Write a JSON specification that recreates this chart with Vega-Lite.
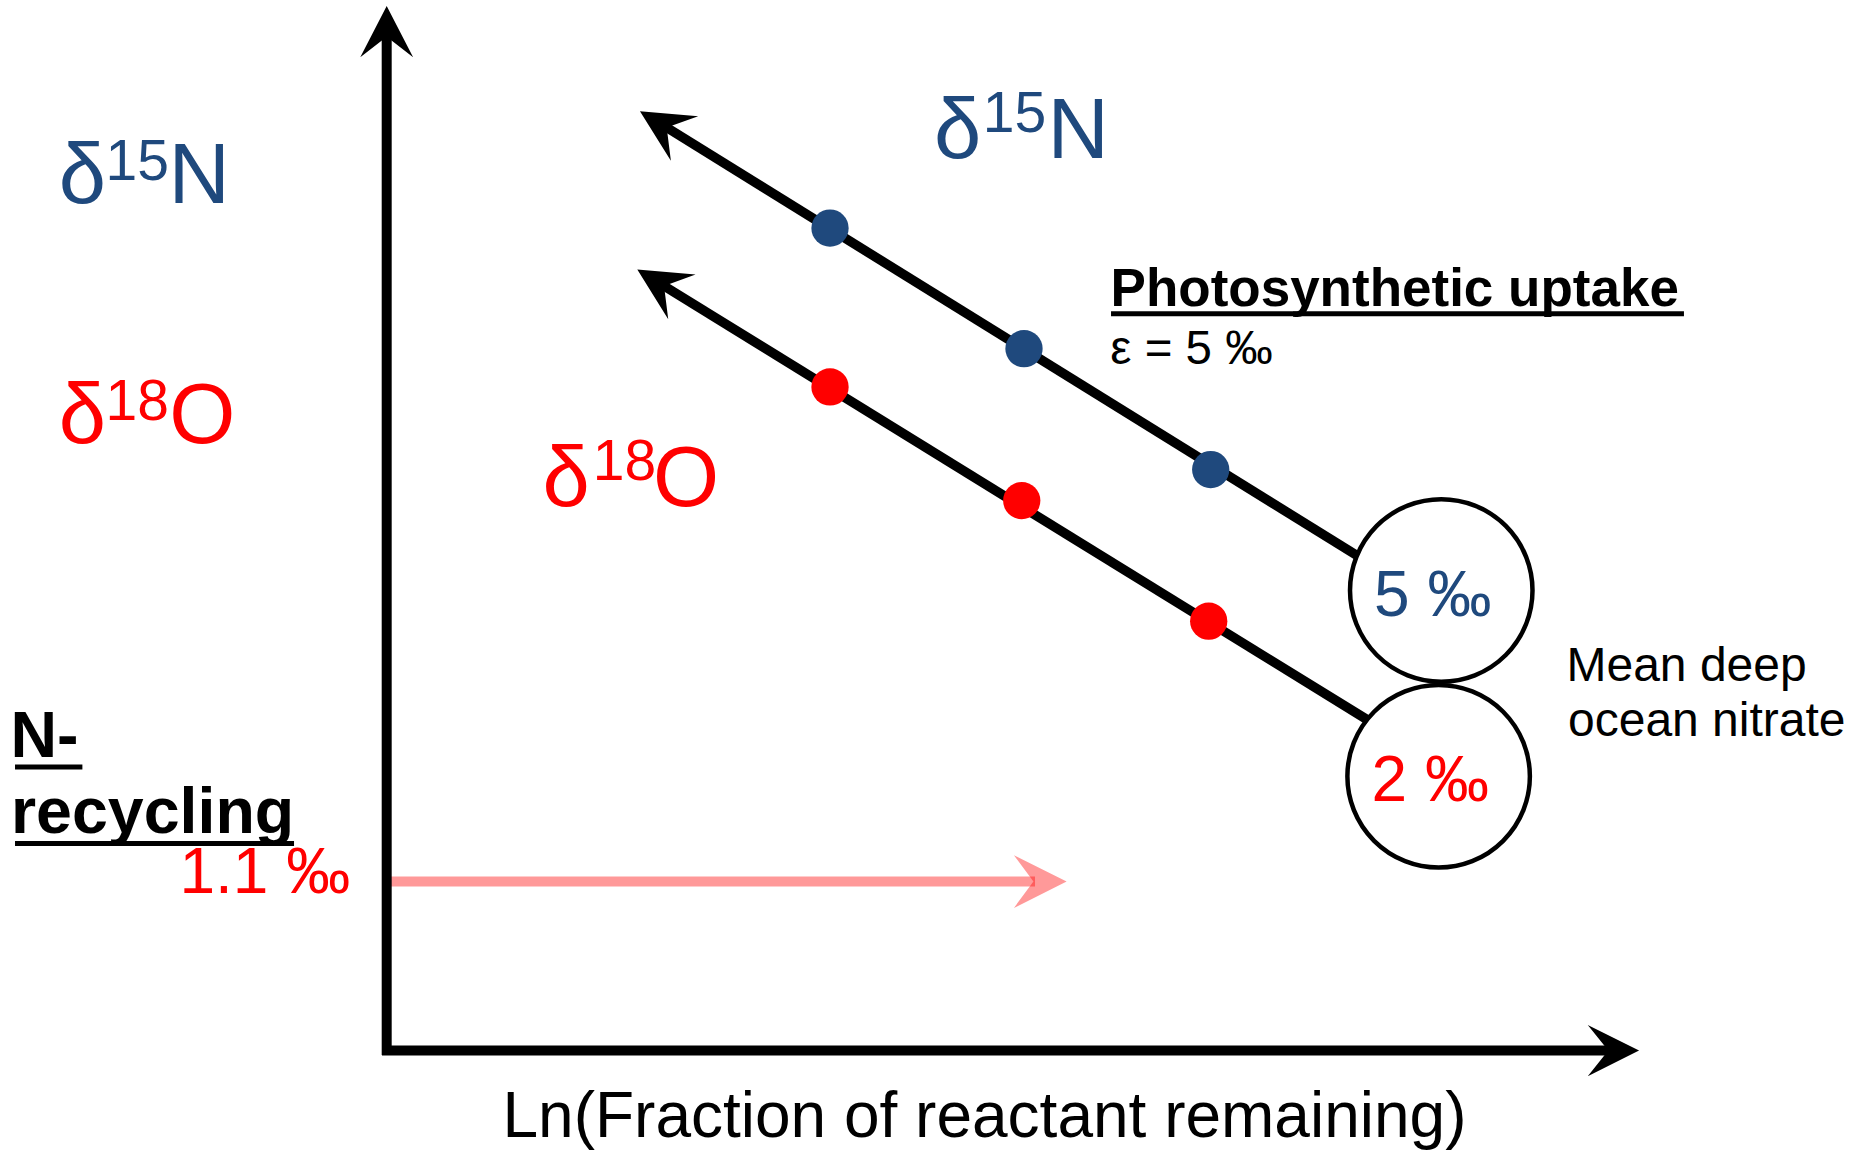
{
  "$schema": "https://vega.github.io/schema/vega-lite/v6.json",
  "width": 1851,
  "height": 1151,
  "autosize": {"type": "fit", "contains": "padding"},
  "padding": 0,
  "background": "white",
  "config": {"view": {"stroke": null}},
  "datasets": {
    "recycling_line": [{"x": 0, "y": 1.618, "x2": 5.177, "y2": 1.618}],
    "recycling_head": [{"x": 5.219, "y": 1.618}],
    "axes": [
      {"x": 0, "y": -0.043, "x2": 0, "y2": 9.718},
      {"x": -0.0375, "y": 0, "x2": 9.768, "y2": 0}
    ],
    "head_up": [{"x": 0, "y": 9.7547}],
    "head_right": [{"x": 9.7956, "y": 0}],
    "trends": [
      {"series": "δ15N", "x": 7.748, "y": 4.739, "x2": 2.2003, "y2": 8.8627},
      {"series": "δ18O", "x": 7.8256, "y": 3.1707, "x2": 2.1792, "y2": 7.3458}
    ],
    "trend_heads": [
      {"series": "δ15N", "x": 2.2003, "y": 8.8627},
      {"series": "δ18O", "x": 2.1792, "y": 7.3458}
    ],
    "samples": [
      {"series": "δ15N", "x": 3.540, "y": 7.874},
      {"series": "δ15N", "x": 5.089, "y": 6.719},
      {"series": "δ15N", "x": 6.580, "y": 5.562},
      {"series": "δ18O", "x": 3.540, "y": 6.353},
      {"series": "δ18O", "x": 5.071, "y": 5.265},
      {"series": "δ18O", "x": 6.564, "y": 4.111}
    ],
    "deep_nitrate": [
      {"series": "δ15N", "x": 8.421, "y": 4.405},
      {"series": "δ18O", "x": 8.400, "y": 2.626}
    ],
    "underlines": [
      {"x": 5.784, "y": 7.054, "x2": 10.359, "y2": 7.054},
      {"x": -2.968, "y": 2.716, "x2": -2.430, "y2": 2.716},
      {"x": -2.968, "y": 1.983, "x2": -0.740, "y2": 1.983}
    ],
    "big_symbols": [
      {"series": "δ15N", "text": "δ", "x": -2.619, "y": 8.113},
      {"series": "δ15N", "text": "N", "x": -1.7416, "y": 8.113},
      {"series": "δ15N", "text": "δ", "x": 4.370, "y": 8.546},
      {"series": "δ15N", "text": "N", "x": 5.2775, "y": 8.546},
      {"series": "δ18O", "text": "δ", "x": -2.619, "y": 5.820},
      {"series": "δ18O", "text": "O", "x": -1.736, "y": 5.820},
      {"series": "δ18O", "text": "δ", "x": 1.244, "y": 5.2176},
      {"series": "δ18O", "text": "O", "x": 2.1265, "y": 5.2176}
    ],
    "superscripts": [
      {"series": "δ15N", "text": "15", "x": -2.2455, "y": 8.336},
      {"series": "δ15N", "text": "15", "x": 4.760, "y": 8.795},
      {"series": "δ18O", "text": "18", "x": -2.2455, "y": 6.040},
      {"series": "δ18O", "text": "18", "x": 1.6458, "y": 5.466}
    ],
    "heading_uptake": [{"series": "neutral", "text": "Photosynthetic uptake", "x": 5.780, "y": 7.1306}],
    "heading_recycling": [
      {"series": "neutral", "text": "N-", "x": -3.004, "y": 2.812},
      {"series": "neutral", "text": "recycling", "x": -3.000, "y": 2.080}
    ],
    "epsilon": [{"series": "neutral", "text": "ε = 5 ‰", "x": 5.778, "y": 6.575}],
    "values": [
      {"series": "δ15N", "text": "5 ‰", "x": 7.884, "y": 4.159},
      {"series": "δ18O", "text": "2 ‰", "x": 7.864, "y": 2.389},
      {"series": "δ18O", "text": "1.1 ‰", "x": -1.6546, "y": 1.5065}
    ],
    "deep_label": [
      {"series": "neutral", "text": "Mean deep", "x": 9.421, "y": 3.539},
      {"series": "neutral", "text": "ocean nitrate", "x": 9.433, "y": 3.008}
    ],
    "x_title": [{"series": "neutral", "text": "Ln(Fraction of reactant remaining)", "x": 4.7736, "y": -0.8274}]
  },
  "encoding": {
    "x": {"field": "x", "type": "quantitative", "scale": {"domain": [-3.0879, 11.6929], "nice": false, "zero": false}, "axis": null},
    "y": {"field": "y", "type": "quantitative", "scale": {"domain": [-0.9517, 10.0574], "nice": false, "zero": false}, "axis": null}
  },
  "layer": [
    {
      "data": {"name": "recycling_line"},
      "mark": {"type": "rule", "color": "#FF0000", "opacity": 0.4, "strokeWidth": 10, "strokeCap": "butt"},
      "encoding": {"x2": {"field": "x2"}, "y2": {"field": "y2"}}
    },
    {
      "data": {"name": "recycling_head"},
      "mark": {"type": "point", "shape": "M0,-1L1,1L0,0.26L-1,1Z", "filled": true, "color": "#FF0000", "opacity": 0.4, "strokeWidth": 0, "size": 2777, "angle": 90},
      "encoding": {}
    },
    {
      "data": {"name": "axes"},
      "mark": {"type": "rule", "color": "#000000", "strokeWidth": 10, "strokeCap": "butt"},
      "encoding": {"x2": {"field": "x2"}, "y2": {"field": "y2"}}
    },
    {
      "data": {"name": "head_up"},
      "mark": {"type": "point", "shape": "M0,-1L1.03,1L0,0.2L-1.03,1Z", "filled": true, "color": "#000000", "opacity": 1, "strokeWidth": 0, "size": 2632, "angle": 0},
      "encoding": {}
    },
    {
      "data": {"name": "head_right"},
      "mark": {"type": "point", "shape": "M0,-1L1.0,1L0,0.2L-1.0,1Z", "filled": true, "color": "#000000", "opacity": 1, "strokeWidth": 0, "size": 2632, "angle": 90},
      "encoding": {}
    },
    {
      "data": {"name": "trends"},
      "mark": {"type": "rule", "color": "#000000", "strokeWidth": 9.5, "strokeCap": "butt"},
      "encoding": {"x2": {"field": "x2"}, "y2": {"field": "y2"}}
    },
    {
      "data": {"name": "trend_heads"},
      "mark": {"type": "point", "shape": "M0,-1L1,1L0,0.2L-1,1Z", "filled": true, "color": "#000000", "opacity": 1, "strokeWidth": 0, "size": 2735, "angle": 301.5},
      "encoding": {}
    },
    {
      "data": {"name": "samples"},
      "mark": {"type": "point", "shape": "circle", "filled": true, "opacity": 1, "strokeWidth": 0, "size": 1391},
      "encoding": {
        "color": {"field": "series", "type": "nominal", "scale": {"domain": ["δ15N", "δ18O", "neutral"], "range": ["#1F497D", "#FF0000", "#000000"]}, "legend": null}
      }
    },
    {
      "data": {"name": "deep_nitrate"},
      "mark": {"type": "point", "shape": "circle", "fill": "#FFFFFF", "stroke": "#000000", "strokeWidth": 4.5, "opacity": 1, "size": 33306},
      "encoding": {}
    },
    {
      "data": {"name": "underlines"},
      "mark": {"type": "rule", "color": "#000000", "strokeWidth": 5, "strokeCap": "butt"},
      "encoding": {"x2": {"field": "x2"}, "y2": {"field": "y2"}}
    },
    {
      "data": {"name": "big_symbols"},
      "mark": {"type": "text", "font": "Liberation Sans", "fontSize": 85, "align": "left", "baseline": "alphabetic"},
      "encoding": {
        "text": {"field": "text"},
        "color": {"field": "series", "type": "nominal", "scale": {"domain": ["δ15N", "δ18O", "neutral"], "range": ["#1F497D", "#FF0000", "#000000"]}, "legend": null}
      }
    },
    {
      "data": {"name": "superscripts"},
      "mark": {"type": "text", "font": "Liberation Sans", "fontSize": 57, "align": "left", "baseline": "alphabetic"},
      "encoding": {
        "text": {"field": "text"},
        "color": {"field": "series", "type": "nominal", "scale": {"domain": ["δ15N", "δ18O", "neutral"], "range": ["#1F497D", "#FF0000", "#000000"]}, "legend": null}
      }
    },
    {
      "data": {"name": "heading_uptake"},
      "mark": {"type": "text", "font": "Liberation Sans", "fontSize": 53, "fontWeight": "bold", "align": "left", "baseline": "alphabetic"},
      "encoding": {
        "text": {"field": "text"},
        "color": {"field": "series", "type": "nominal", "scale": {"domain": ["δ15N", "δ18O", "neutral"], "range": ["#1F497D", "#FF0000", "#000000"]}, "legend": null}
      }
    },
    {
      "data": {"name": "heading_recycling"},
      "mark": {"type": "text", "font": "Liberation Sans", "fontSize": 64.5, "fontWeight": "bold", "align": "left", "baseline": "alphabetic"},
      "encoding": {
        "text": {"field": "text"},
        "color": {"field": "series", "type": "nominal", "scale": {"domain": ["δ15N", "δ18O", "neutral"], "range": ["#1F497D", "#FF0000", "#000000"]}, "legend": null}
      }
    },
    {
      "data": {"name": "epsilon"},
      "mark": {"type": "text", "font": "Liberation Sans", "fontSize": 47.5, "align": "left", "baseline": "alphabetic"},
      "encoding": {
        "text": {"field": "text"},
        "color": {"field": "series", "type": "nominal", "scale": {"domain": ["δ15N", "δ18O", "neutral"], "range": ["#1F497D", "#FF0000", "#000000"]}, "legend": null}
      }
    },
    {
      "data": {"name": "values"},
      "mark": {"type": "text", "font": "Liberation Sans", "fontSize": 64, "align": "left", "baseline": "alphabetic"},
      "encoding": {
        "text": {"field": "text"},
        "color": {"field": "series", "type": "nominal", "scale": {"domain": ["δ15N", "δ18O", "neutral"], "range": ["#1F497D", "#FF0000", "#000000"]}, "legend": null}
      }
    },
    {
      "data": {"name": "deep_label"},
      "mark": {"type": "text", "font": "Liberation Sans", "fontSize": 48, "align": "left", "baseline": "alphabetic"},
      "encoding": {
        "text": {"field": "text"},
        "color": {"field": "series", "type": "nominal", "scale": {"domain": ["δ15N", "δ18O", "neutral"], "range": ["#1F497D", "#FF0000", "#000000"]}, "legend": null}
      }
    },
    {
      "data": {"name": "x_title"},
      "mark": {"type": "text", "font": "Liberation Sans", "fontSize": 64, "align": "center", "baseline": "alphabetic"},
      "encoding": {
        "text": {"field": "text"},
        "color": {"field": "series", "type": "nominal", "scale": {"domain": ["δ15N", "δ18O", "neutral"], "range": ["#1F497D", "#FF0000", "#000000"]}, "legend": null}
      }
    }
  ]
}
